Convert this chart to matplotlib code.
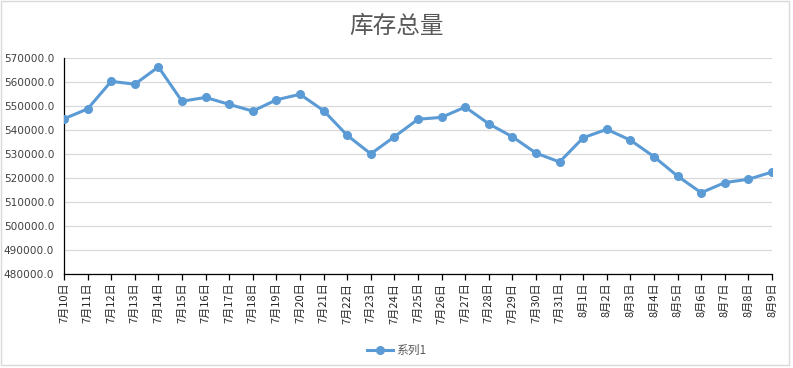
import matplotlib.pyplot as plt
from matplotlib.patches import Rectangle

plt.rcParams['font.family'] = ['Noto Sans CJK SC', 'DejaVu Sans']

# Data
dates = ['7月10日', '7月11日', '7月12日', '7月13日', '7月14日', '7月15日', '7月16日',
         '7月17日', '7月18日', '7月19日', '7月20日', '7月21日', '7月22日', '7月23日',
         '7月24日', '7月25日', '7月26日', '7月27日', '7月28日', '7月29日', '7月30日',
         '7月31日', '8月1日', '8月2日', '8月3日', '8月4日', '8月5日', '8月6日',
         '8月7日', '8月8日', '8月9日']
stock = [544800, 548900, 560400, 559200, 566400, 552100, 553700,
         550800, 548000, 552700, 555000, 548200, 537900, 530200,
         537300, 544600, 545400, 549700, 542700, 537300, 530500,
         526800, 536900, 540400, 535900, 529000, 520900, 514000,
         518200, 519600, 522600]
yticks = list(range(480000, 570001, 10000))

fig = plt.figure(figsize=(7.93, 3.68), dpi=100)
ax = fig.add_axes([0.0807, 0.2546, 0.8928, 0.587])

x = list(range(len(dates)))
ax.plot(x, stock, color='#5B9BD5', linewidth=2.2, marker='o', markersize=5.5,
        label='系列1', zorder=3)

ax.set_xlim(0, len(dates) - 1)
ax.set_ylim(480000, 570000)
ax.set_yticks(yticks)
ax.set_yticklabels([f'{v:.1f}' for v in yticks], fontsize=7.6, color='#404040',
                   family='DejaVu Sans')
ax.set_xticks(x)
ax.set_xticklabels(dates, rotation=90, fontsize=8, color='#262626')

ax.grid(axis='y', color='#d9d9d9', linewidth=0.9)
ax.set_axisbelow(True)
for s in ['top', 'right']:
    ax.spines[s].set_visible(False)
ax.spines['left'].set_color('black')
ax.spines['bottom'].set_color('black')
ax.spines['left'].set_linewidth(0.9)
ax.spines['bottom'].set_linewidth(0.9)
ax.tick_params(axis='y', length=0, pad=7)
ax.tick_params(axis='x', length=4, width=0.9, pad=2)

fig.suptitle('库存总量', x=0.5, y=0.96, fontsize=17, color='#595959', fontweight='medium')

fig.legend(loc='lower center', bbox_to_anchor=(0.5, 0.0), frameon=False,
           fontsize=8.5, labelcolor='#595959', handlelength=2.2, handletextpad=0.3)

# light border around chart area
fig.patches.append(Rectangle((0.001, 0.008), 0.994, 0.99, transform=fig.transFigure,
                             fill=False, edgecolor='#d9d9d9', linewidth=1))

fig.savefig('out.png', dpi=100)
